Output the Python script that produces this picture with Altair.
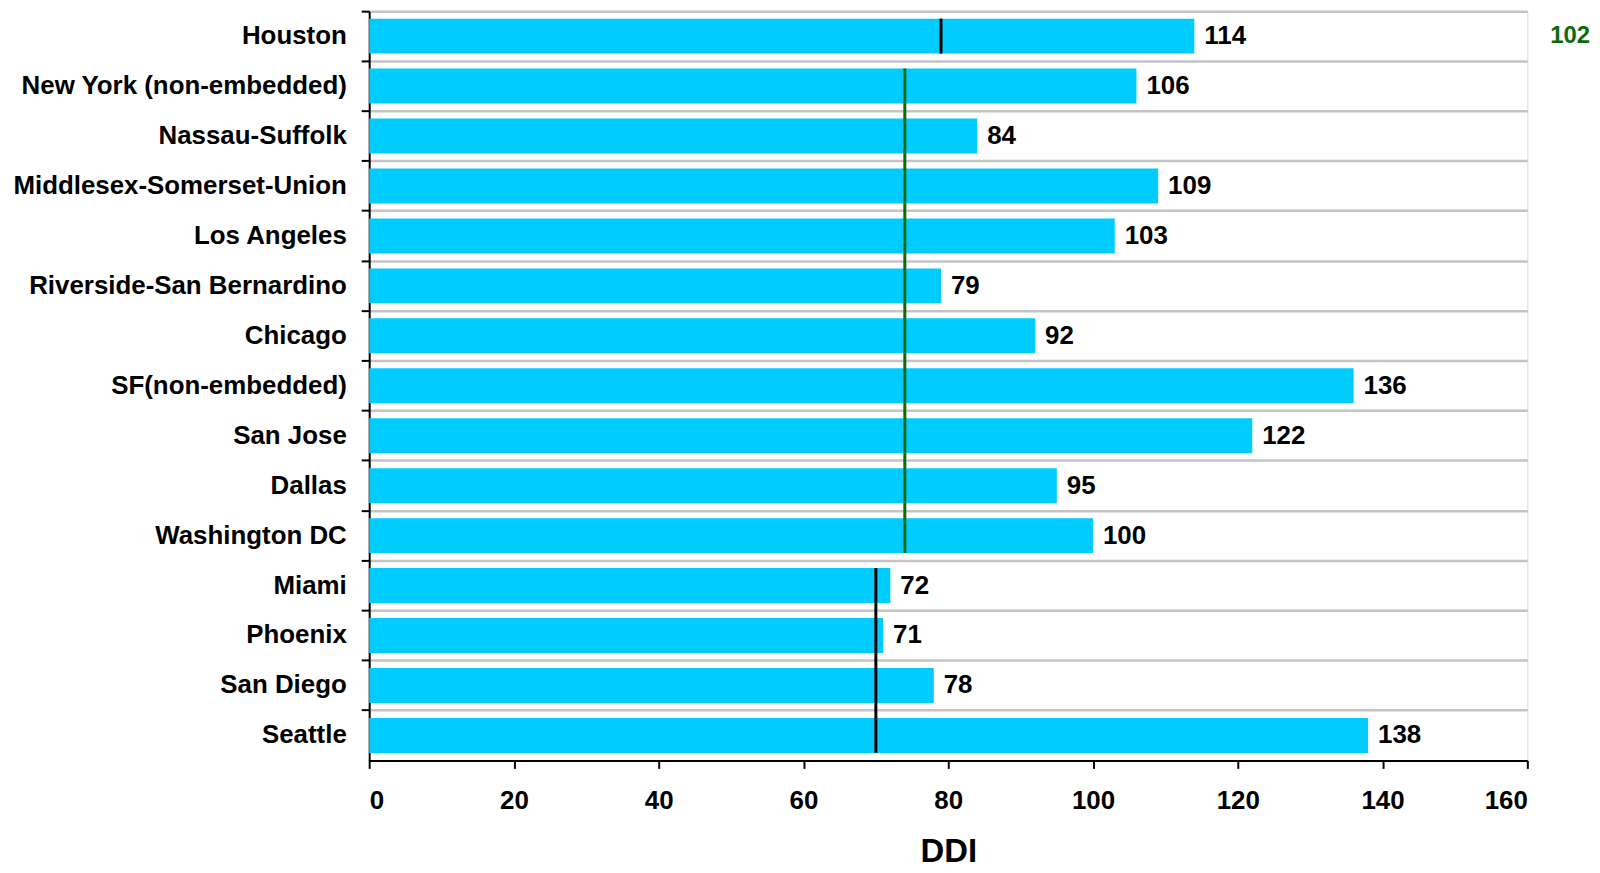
import altair as alt
import pandas as pd

categories = ["Houston", "New York (non-embedded)", "Nassau-Suffolk",
              "Middlesex-Somerset-Union", "Los Angeles", "Riverside-San Bernardino",
              "Chicago", "SF(non-embedded)", "San Jose", "Dallas", "Washington DC",
              "Miami", "Phoenix", "San Diego", "Seattle"]
values = [114, 106, 84, 109, 103, 79, 92, 136, 122, 95, 100, 72, 71, 78, 138]

rule_start = ["Houston", "New York (non-embedded)", "Miami"]
rule_end = ["Houston", "Washington DC", "Seattle"]
rule_x = [79, 74, 70]
rule_color = ["#000000", "#0b6b0b", "#000000"]

side_label_cat = ["Houston"]
side_label_text = ["102"]

FONT = "Liberation Sans"

bars_df = pd.DataFrame({"city": categories, "ddi": values})
rules_df = pd.DataFrame({"start": rule_start, "end": rule_end, "x": rule_x, "color": rule_color})
side_df = pd.DataFrame({"city": side_label_cat, "label": side_label_text})

yscale = alt.Scale(domain=categories, paddingInner=0, paddingOuter=0)

yaxis = alt.Axis(title=None, bandPosition=0, grid=True, gridColor="#c4c4c4", gridWidth=2.5,
                 domainColor="#000000", domainWidth=2, tickColor="#000000", tickWidth=2,
                 tickSize=8, labelPadding=15, labelFont=FONT, labelFontWeight="bold",
                 labelFontSize=26, labelColor="#000000", labelLimit=600)

xaxis = alt.Axis(title="DDI", values=list(range(0, 161, 20)), grid=False,
                 domainColor="#000000", domainWidth=2, tickColor="#000000", tickWidth=2,
                 tickSize=8, labelPadding=19, labelFont=FONT, labelFontWeight="bold",
                 labelFontSize=26, labelColor="#000000", titleFont=FONT,
                 titleFontWeight="bold", titleFontSize=33, titleColor="#000000",
                 titlePadding=23)

xscale = alt.Scale(domain=[0, 160], nice=False)

bars = alt.Chart(bars_df).mark_bar(color="#00CCFF", height={"band": 0.7}).encode(
    x=alt.X("ddi:Q", scale=xscale, axis=xaxis),
    y=alt.Y("city:N", scale=yscale, axis=yaxis, sort=categories),
)

labels = alt.Chart(bars_df).mark_text(
    align="left", baseline="middle", dx=10, font=FONT, fontWeight="bold",
    fontSize=26, color="#000000"
).encode(
    x=alt.X("ddi:Q", scale=xscale),
    y=alt.Y("city:N", scale=yscale, sort=categories),
    text="ddi:Q",
)

rules = alt.Chart(rules_df).mark_rule(strokeWidth=3).encode(
    x=alt.X("x:Q", scale=xscale),
    y=alt.Y("start:N", scale=yscale, bandPosition=0.15),
    y2=alt.Y2("end:N", bandPosition=0.85),
    color=alt.Color("color:N", scale=None),
)

side = alt.Chart(side_df).mark_text(
    align="right", baseline="middle", font=FONT, fontWeight="bold",
    fontSize=24, color="#0b6b0b"
).encode(
    x=alt.value(1227),
    y=alt.Y("city:N", scale=yscale),
    text="label:N",
)

chart = alt.layer(bars, labels, rules, side).properties(
    width=1164, height=753,
    autosize=alt.AutoSizeParams(type="none"),
    padding={"left": 363, "top": 1, "right": 65, "bottom": 111},
).configure_view(stroke=None).configure(background="#ffffff")

chart.save("out.html", embed_options={"renderer": "svg", "actions": False})
